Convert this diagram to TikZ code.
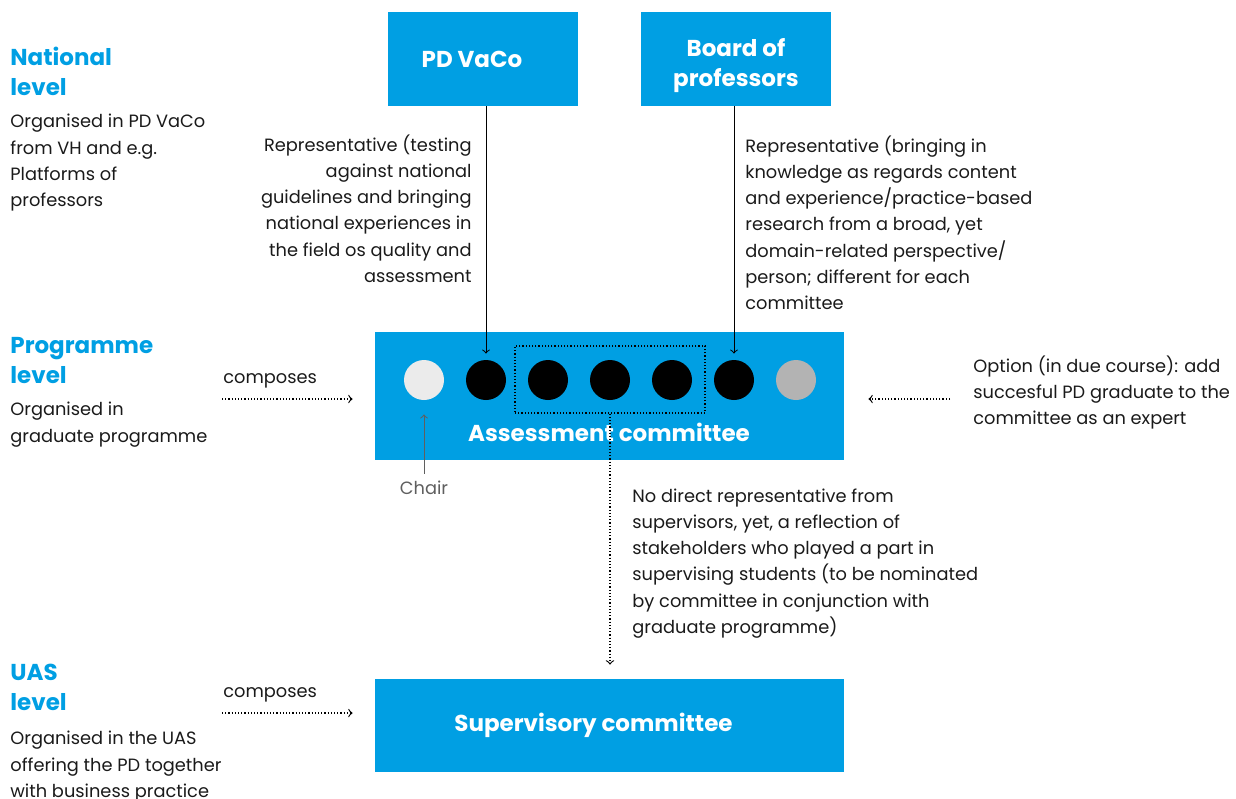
\documentclass[tikz,border=0pt]{standalone}
\usepackage{fontspec}
\setmainfont{Poppins}
\usepackage{tikz}
\usetikzlibrary{arrows,positioning}
\definecolor{vhblue}{HTML}{009FE3}
\definecolor{chairfill}{HTML}{EBEBEB}
\definecolor{expertfill}{HTML}{B3B3B3}
\definecolor{txt}{HTML}{1A1A1A}
\definecolor{chairtxt}{HTML}{5F5F5F}

\begin{document}
\begin{tikzpicture}[x=0.5pt,y=-0.5pt,>=to,node distance=31pt,
  every node/.style={inner sep=0pt,text=txt},
  level/.style={anchor=north west,align=left,text=vhblue,font=\bfseries\fontsize{11.5}{15}\selectfont},
  note/.style={align=left,font=\fontsize{8.9}{13.15}\selectfont},
  unit/.style={fill=vhblue,text=white,align=center,font=\bfseries\fontsize{11.5}{15}\selectfont},
  member/.style={circle,fill=black,minimum size=20pt},
  dots/.style={densely dotted,line width=0.6pt}]
  \useasboundingbox (0,0) rectangle (1236,798);

  \node[unit,minimum width=95pt,minimum height=47pt] (pd) at (483,59) {PD VaCo\hspace*{11pt}};
  \node[unit,minimum width=95pt,minimum height=47pt] (bp) at (736,59) {\rule{0pt}{16pt}Board of\\professors};
  \node[unit,minimum width=234.5pt,minimum height=64pt] (ac) at (609.5,396) {};
  \node[unit,minimum width=234.5pt,minimum height=46.5pt] (sc) at (609.5,725.5) {Supervisory committee\hspace*{16pt}};
  \node[text=white,font=\bfseries\fontsize{11.5}{15}\selectfont] (actitle) at (609,432) {Assessment committee};

  \node[member,fill=chairfill] (c1) at (424,380) {};
  \node[member] (c2) [right of=c1] {};
  \node[member] (c3) [right of=c2] {};
  \node[member] (c4) [right of=c3] {};
  \node[member] (c5) [right of=c4] {};
  \node[member] (c6) [right of=c5] {};
  \node[member,fill=expertfill] (c7) [right of=c6] {};
  \node[draw=black,dots,minimum width=95pt,minimum height=33.5pt] (grp) at (610,379.5) {};

  \node[level] (natl) at (10,47) {National\\level};
  \node[note,anchor=north west] (natnote) at (10,114) {Organised in PD VaCo\\from VH and e.g.\\Platforms of\\professors};
  \node[level] (prog) at (10,337) {Programme\\level};
  \node[note,anchor=north west] (prognote) at (10,402) {Organised in\\graduate programme};
  \node[level] (uas) at (10,664) {UAS\\level};
  \node[note,anchor=north west] (uasnote) at (10,731) {Organised in the UAS\\offering the PD together\\with business practice};

  \node[note,align=right,anchor=north east] (pdrep) at (472,134) {Representative (testing\\against national\\guidelines and bringing\\national experiences in\\the field os quality and\\assessment};
  \node[note,anchor=north west] (bprep) at (745,135) {Representative (bringing in\\knowledge as regards content\\and experience/practice-based\\research from a broad, yet\\domain-related perspective/\\person; different for each\\committee};
  \node[note,anchor=north west] (norep) at (632,488) {No direct representative from\\supervisors, yet, a reflection of\\stakeholders who played a part in\\supervising students (to be nominated\\by committee in conjunction with\\graduate programme)};
  \node[note,anchor=north west] (opttxt) at (973,355) {Option (in due course): add\\succesful PD graduate to the\\committee as an expert};

  \node[note,anchor=base west] (comp1) at (223,383) {composes};
  \node[note,anchor=base west] (comp2) at (223,697) {composes};
  \node[note,text=chairtxt] (chair) at (424,488) {Chair};

  \coordinate (cp1) at (222,399);
  \coordinate (cp2) at (222,713);
  \coordinate (opt) at (950,399);

  \path[->,line width=0.5pt,shorten >=3pt] (c2 |- pd.south) edge (c2)
        (c6 |- bp.south) edge (c6);
  \draw[->,chairtxt,line width=0.5pt,shorten <=3.5pt,shorten >=7pt] (chair) -- (c1);
  \draw[->,dots,shorten >=11pt] (cp1) -- (cp1 -| ac.west);
  \draw[->,dots,shorten >=11pt] (cp2) -- (cp2 -| sc.west);
  \draw[->,dots,shorten >=12pt] (opt) -- (opt -| ac.east);
  \draw[->,dots,shorten >=7pt] (grp.south) -- (grp.south |- sc.north);
\end{tikzpicture}
\end{document}
